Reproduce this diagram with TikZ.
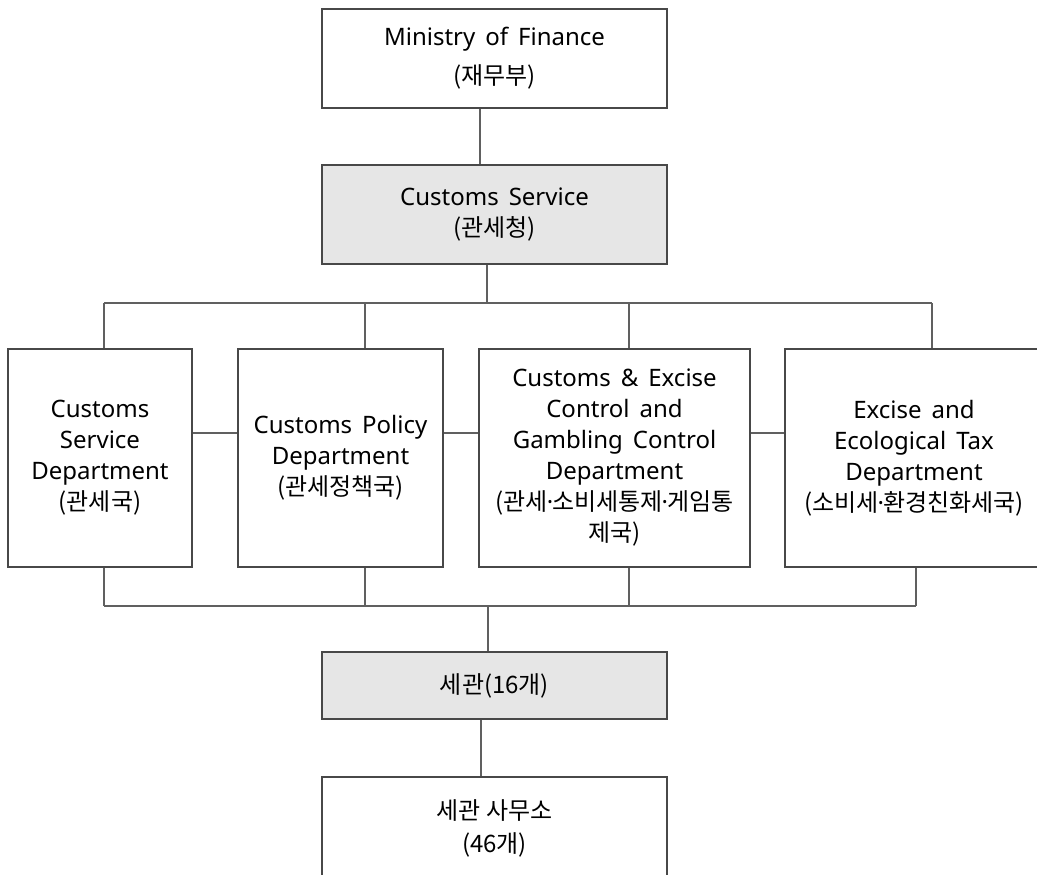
\documentclass[tikz,border=0pt]{standalone}
\usepackage{fontspec}
\setmainfont{Noto Sans}[WordSpace=1.6]
\newfontfamily\kr{Noto Sans CJK KR}
\newcommand{\mdt}{{\normalfont\kern-1pt·\kern-1pt}}
\definecolor{boxline}{HTML}{484848}
\definecolor{conline}{HTML}{606060}
\definecolor{boxfill}{HTML}{E6E6E6}
\begin{document}
\begin{tikzpicture}[x=1pt,y=-1pt,
  box/.style={draw=boxline, line width=1.3pt, fill=white, inner sep=0pt,
    align=center, text=black, font=\fontsize{24}{31}\selectfont},
  graybox/.style={box, fill=boxfill},
  con/.style={draw=conline, line width=1.2pt}]
\useasboundingbox (0,0) rectangle (1037,875);
\clip (0,0) rectangle (1037,875);
% top boxes
\node[box, minimum width=345, minimum height=99] (mof) at (494.5,58.5)
  {Ministry of Finance\\[8pt]{\kr (재무부)}};
\node[graybox, minimum width=345, minimum height=99] (cs) at (494.5,214.5)
  {Customs Service\\{\kr (관세청)}};
% departments
\node[box, minimum width=184, minimum height=218] (d1) at (100,458)
  {Customs\\Service\\Department\\{\kr (관세국)}};
\node[box, minimum width=205, minimum height=218] (d2) at (340.5,458)
  {Customs Policy\\Department\\{\kr (관세정책국)}};
\node[box, minimum width=271, minimum height=218] (d3) at (614.5,458)
  {Customs \& Excise\\Control and\\Gambling Control\\Department\\{\kr (관세\mdt 소비세통제\mdt 게임통}\\{\kr 제국)}};
\node[box, minimum width=258, minimum height=218] (d4) at (914,458)
  {Excise and\\Ecological Tax\\Department\\{\kr (소비세\mdt 환경친화세국)}};
% bottom boxes
\node[graybox, minimum width=345, minimum height=67] (br) at (494.5,685.5)
  {\kr 세관(16개)};
\node[box, minimum width=345, minimum height=102] (of) at (494.5,828)
  {\kr 세관 사무소\\[2pt]\kr (46개)};
% connectors top
\draw[con] ([xshift=-14.5]mof.south) -- ([xshift=-14.5]cs.north);
\coordinate (tm) at (487,303);
\coordinate (t1) at (104,303);
\coordinate (t2) at (365,303);
\coordinate (t3) at (629,303);
\coordinate (t4) at (932,303);
\draw[con] (tm |- cs.south) -- (tm);
\draw[con] (t1) -- (t4);
\draw[con] (t1) -- (t1 |- d1.north);
\draw[con] (t2) -- (t2 |- d2.north);
\draw[con] (t3) -- (t3 |- d3.north);
\draw[con] (t4) -- (t4 |- d4.north);
% side connectors
\coordinate (h) at (0,433);
\draw[con] (d1.east |- h) -- (d2.west |- h);
\draw[con] (d2.east |- h) -- (d3.west |- h);
\draw[con] (d3.east |- h) -- (d4.west |- h);
% bottom bus
\coordinate (b1) at (104,606);
\coordinate (b2) at (365,606);
\coordinate (b3) at (629,606);
\coordinate (b4) at (916,606);
\coordinate (bm) at (488,606);
\draw[con] (b1) -- (b4);
\draw[con] (b1 |- d1.south) -- (b1);
\draw[con] (b2 |- d2.south) -- (b2);
\draw[con] (b3 |- d3.south) -- (b3);
\draw[con] (b4 |- d4.south) -- (b4);
\draw[con] (bm) -- (bm |- br.north);
\draw[con] ([xshift=-13.5]br.south) -- ([xshift=-13.5]of.north);
\end{tikzpicture}
\end{document}
